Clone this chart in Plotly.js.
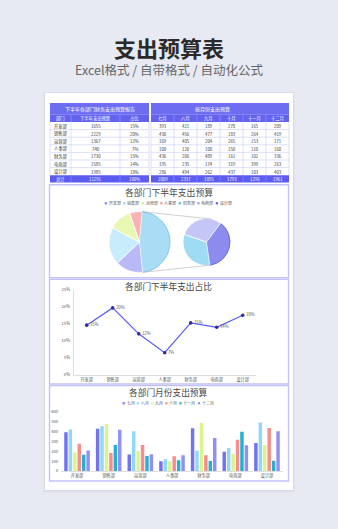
<!DOCTYPE html>
<html><head><meta charset="utf-8">
<script src="https://cdn.plot.ly/plotly-3.0.1.min.js"></script>
<style>html,body{margin:0;padding:0;background:#e7eaf2;}#chart{width:338px;height:529px;}</style>
</head><body><div id="chart"></div>
<script>
// ---------- data ----------
const departments = ['开发部','销售部','运营部','人事部','财务部','电商部','设计部'];
const months = ['七月','八月','九月','十月','十一月','十二月'];
const halfYearBudget = [1655,2229,1367,740,1730,1585,1985];
const julBudget = [393,430,169,100,436,195,286];
const augBudget = [421,456,405,120,206,235,494];
const sepBudget = [189,477,204,100,489,174,262];
const octBudget = [278,183,265,150,161,319,437];
const novBudget = [165,264,153,110,102,399,103];
const decBudget = [209,419,171,160,336,263,403];
const leftHeaders = ['部门','下半年支出预算','占比'];
const totalLabel = '总计';
const shareTicks = [0,0.05,0.10,0.15,0.20,0.25];
const shareTickLabels = ['0%','5%','10%','15%','20%','25%'];
const budgetTicks = [0,100,200,300,400,500,600];
const budgetTickLabels = ['0','100','200','300','400','500','600'];
const mainTitle = '支出预算表';
const subTitle = 'Excel格式 / 自带格式 / 自动化公式';
const leftTableTitle = '下半年各部门财务支出预算报告';
const rightTableTitle = '按月份支出预算';
const pieTitle = '各部门下半年支出预算';
const lineTitle = '各部门下半年支出占比';
const barTitle = '各部门月份支出预算';

// ---------- helpers ----------
const W=338,H=529;
const px=x=>x/W, py=y=>1-y/H;
const FONT='"Noto Sans CJK SC","Noto Sans",sans-serif';
const shapes=[], annotations=[];
function rect(x0,y0,x1,y1,fill,line,lw,layer){shapes.push({type:'rect',xref:'paper',yref:'paper',x0:px(x0),x1:px(x1),y0:py(y1),y1:py(y0),fillcolor:fill||'rgba(0,0,0,0)',line:{color:line||'rgba(0,0,0,0)',width:lw||0},layer:layer||'below'});}
function seg(x0,y0,x1,y1,color,w,layer){shapes.push({type:'line',xref:'paper',yref:'paper',x0:px(x0),y0:py(y0),x1:px(x1),y1:py(y1),line:{color:color,width:w},layer:layer||'below'});}
function label(x,y,text,size,color,opts,weight){annotations.push(Object.assign({xref:'paper',yref:'paper',x:px(x),y:py(y),text:String(text),showarrow:false,xanchor:'center',yanchor:'middle',borderpad:0,font:{family:FONT,size:size,color:color,weight:weight||400}},opts||{}));}

const sum=a=>a.reduce((s,v)=>s+v,0);
const monthly=[julBudget,augBudget,sepBudget,octBudget,novBudget,decBudget];
const total=sum(halfYearBudget);
const shares=halfYearBudget.map(v=>v/total);
const shareLabels=shares.map(s=>Math.round(s*100)+'%');

// ---------- page ----------
rect(43,92,295,493,'rgba(110,120,150,0.05)');
rect(44,92,294,491.5,'rgba(110,120,150,0.07)');
rect(45,93,293,490,'#ffffff');
label(169,47,mainTitle,22,'#2a2a2a',{},700);
label(169,69.5,subTitle,12.5,'#666666');

// ---------- tables ----------
const tTop=103,hTop=114.7,dTop=122,rowH=7.6,totTop=dTop+rowH*departments.length,totBot=totTop+7.4;
const gridC='#c9c9f7';
function drawTable(cols,titleText,titleX,headers,rows,totalRow){
  const x0=cols[0],x1=cols[cols.length-1];
  rect(x0,tTop,x1,hTop,'#6d6df2');
  label(titleX,(tTop+hTop)/2,titleText,5,'#ffffff');
  rect(x0,hTop,x1,dTop,'#6363f0');
  headers.forEach((h,j)=>label((cols[j]+cols[j+1])/2,(hTop+dTop)/2+0.2,h,4.3,'#ffffff'));
  cols.slice(1,-1).forEach(c=>seg(c,hTop,c,dTop,'#9d9df6',0.6));
  rows.forEach((r,i)=>{const yA=dTop+i*rowH;r.forEach((v,j)=>label((cols[j]+cols[j+1])/2,yA+rowH/2+0.2,v,4.3,'#333333'));});
  for(let i=1;i<rows.length;i++) seg(x0,dTop+i*rowH,x1,dTop+i*rowH,gridC,0.6);
  cols.forEach(c=>seg(c,dTop,c,totTop,gridC,0.6));
  rect(x0,totTop,x1,totBot,'#5b5bef');
  cols.slice(1,-1).forEach(c=>seg(c,totTop,c,totBot,'#8d8df5',0.6));
  totalRow.forEach((v,j)=>label((cols[j]+cols[j+1])/2,(totTop+totBot)/2+0.2,v,4.3,'#ffffff'));
}
const leftCols=[50,71,120,149];
drawTable(leftCols,leftTableTitle,100,leftHeaders,
  departments.map((d,i)=>[d,halfYearBudget[i],shareLabels[i]]),
  [totalLabel,total,'100%']);
const rightCols=months.map((m,i)=>151+i*23).concat([289]);
drawTable(rightCols,rightTableTitle,212,months,
  departments.map((d,i)=>monthly.map(a=>a[i])),
  monthly.map(a=>sum(a)));

// ---------- section boxes ----------
const boxC='#c2c2f8';
rect(49.5,184.8,288.5,277.6,null,boxC,1.4);
rect(49.5,279.2,288.5,384,null,boxC,1.4);
rect(49.5,385.6,288.5,481,null,boxC,1.4);

// ---------- legends ----------
function legendRow(items,colors,cy,cx){
  const adv=items.map(t=>5.6+t.length*4.3);
  let x=cx-sum(adv)/2;
  items.forEach((t,i)=>{rect(x,cy-1.1,x+2.2,cy+1.1,colors[i],null,0,'above');label(x+3,cy,t,4,'#555555',{xanchor:'left'});x+=adv[i];});
}
const deptLegendColors=['#8484f2','#8ed6fb','#d6f07e','#f49090','#44bbdc','#9a9af2','#5a5ae0'];
const monthColors=['#7272f2','#90d7fc','#dcf48c','#f68c8c','#27aed0','#9090f2'];

// ---------- pie of pie ----------
label(168.5,193,pieTitle,8.8,'#4a4a4a');
legendRow(departments,deptLegendColors,203.3,169.5);
const other=halfYearBudget[4]+halfYearBudget[5]+halfYearBudget[6];
const mC={x:139.5,y:242,r:30.5}, sC={x:206.5,y:242,r:23.5};
const mainRot=5, secRot=37;
const mainPie={type:'pie',values:[other,halfYearBudget[0],halfYearBudget[1],halfYearBudget[2],halfYearBudget[3]],
  labels:['其他',departments[0],departments[1],departments[2],departments[3]],
  sort:false,direction:'clockwise',rotation:mainRot,textinfo:'none',hoverinfo:'label+value',showlegend:false,
  marker:{colors:['#a9dcf5','#b9b9f6','#c9ecfd','#e9f7b4','#f8b4b4'],line:{color:['#6cc0ea','#ffffff','#ffffff','#ffffff','#ffffff'],width:0.8}},
  domain:{x:[px(mC.x-mC.r),px(mC.x+mC.r)],y:[py(mC.y+mC.r),py(mC.y-mC.r)]}};
const secPie={type:'pie',values:[halfYearBudget[6],halfYearBudget[4],halfYearBudget[5]],
  labels:[departments[6],departments[4],departments[5]],
  sort:false,direction:'clockwise',rotation:secRot,textinfo:'none',hoverinfo:'label+value',showlegend:false,
  marker:{colors:['#8c8cee','#9ddcf2','#c3c6f6'],line:{color:['#5555dd','#ffffff','#ffffff'],width:0.8}},
  domain:{x:[px(sC.x-sC.r),px(sC.x+sC.r)],y:[py(sC.y+sC.r),py(sC.y-sC.r)]}};
const rad=d=>d*Math.PI/180;
const otherSpan=other/total*360;
const pt=(c,a)=>[c.x+c.r*Math.sin(rad(a)),c.y-c.r*Math.cos(rad(a))];
let a1=pt(mC,mainRot),a2=pt(sC,14),b1=pt(mC,mainRot+otherSpan),b2=pt(sC,170);
seg(a1[0],a1[1],a2[0],a2[1],'#b0b0b0',0.6,'above');
seg(b1[0],b1[1],b2[0],b2[1],'#b0b0b0',0.6,'above');

// ---------- line chart ----------
label(168,286.3,lineTitle,8.7,'#444444');
const lineTrace={type:'scatter',mode:'lines+markers+text',x:departments,y:shares,text:shareLabels,
  textposition:'middle right',textfont:{family:FONT,size:4.3,color:'#555555'},cliponaxis:false,
  line:{color:'#5c5cf2',width:1.2},marker:{color:'#2e2e96',size:3.6},xaxis:'x',yaxis:'y',showlegend:false};

// ---------- bar chart ----------
label(168,392.3,barTitle,8.7,'#444444');
legendRow(months,monthColors,403.3,169.5);
const barTraces=months.map((m,k)=>({type:'bar',name:m,x:departments,y:monthly[k],marker:{color:monthColors[k]},xaxis:'x2',yaxis:'y2',showlegend:false}));

const axisFont={family:FONT,size:4.2,color:'#555555'};
const layout={width:W,height:H,margin:{l:0,r:0,t:0,b:0},paper_bgcolor:'#e7eaf2',plot_bgcolor:'rgba(0,0,0,0)',
  font:{family:FONT},showlegend:false,barmode:'group',bargap:0.16,bargroupgap:0.22,
  xaxis:{domain:[px(73.7),px(255.7)],anchor:'y',type:'category',range:[-0.5,6.5],showline:true,linecolor:'#d6d6d6',linewidth:0.8,
    showgrid:false,zeroline:false,ticks:'',tickfont:axisFont,fixedrange:true},
  yaxis:{domain:[py(375),py(290)],anchor:'x',range:[0,0.25],tickvals:shareTicks,ticktext:shareTickLabels,showline:true,linecolor:'#d6d6d6',linewidth:0.8,
    showgrid:false,zeroline:false,ticks:'',tickfont:axisFont,ticklabelstandoff:2,fixedrange:true},
  xaxis2:{domain:[px(61.2),px(282.8)],anchor:'y2',type:'category',range:[-0.5,6.5],showline:true,linecolor:'#d6d6d6',linewidth:0.8,
    showgrid:false,zeroline:false,ticks:'',tickfont:axisFont,fixedrange:true},
  yaxis2:{domain:[py(471),py(412)],anchor:'x2',range:[0,600],tickvals:budgetTicks,ticktext:budgetTickLabels,showline:false,
    showgrid:false,zeroline:false,ticks:'',tickfont:axisFont,ticklabelstandoff:2,fixedrange:true},
  shapes:shapes,annotations:annotations};
Plotly.newPlot('chart',[mainPie,secPie,lineTrace].concat(barTraces),layout,{displayModeBar:false,staticPlot:true});
</script></body></html>
